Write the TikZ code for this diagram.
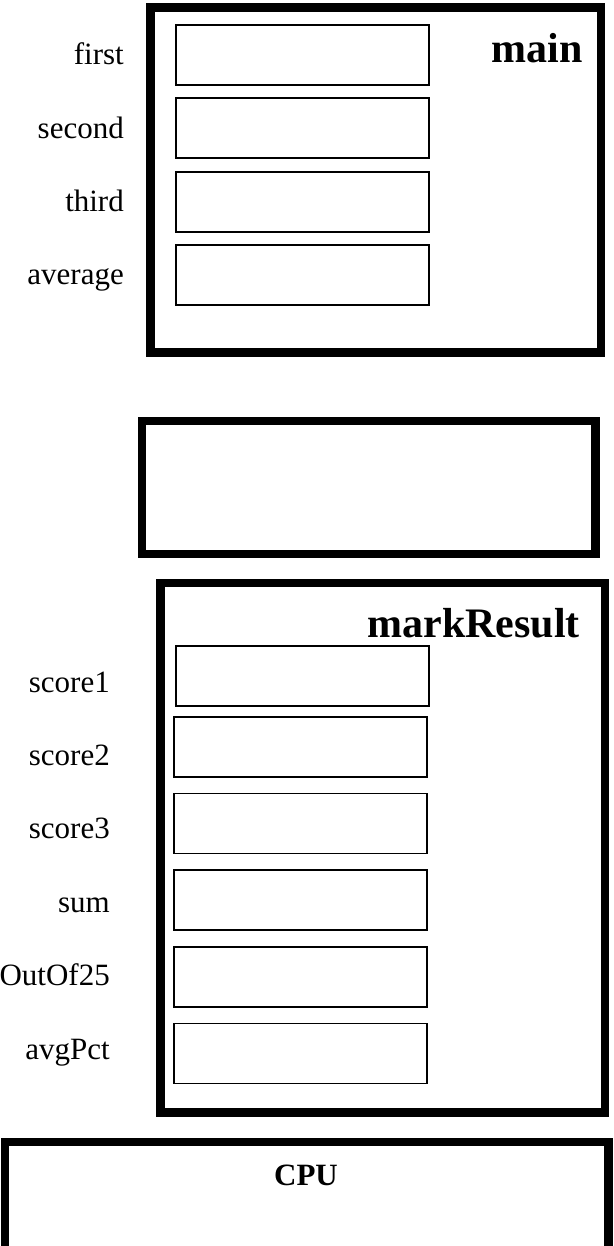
\documentclass[tikz,border=0pt]{standalone}
\usepackage{fontspec}
\setmainfont{Liberation Serif}
\usetikzlibrary{positioning}

\tikzset{
  frame/.style={draw, line width=8.4pt, inner sep=0pt},
  cell/.style={draw, line width=1.9pt, minimum width=253pt, minimum height=60pt, inner sep=0pt},
  varname/.style={font=\fontsize{31}{37}\selectfont, anchor=base east, inner sep=0pt},
  fnname/.style={font=\fontsize{42}{50}\selectfont\bfseries, anchor=base east, inner sep=0pt}
}

\begin{document}
\begin{tikzpicture}[x=1pt, y=-1pt]

\useasboundingbox (0,0) rectangle (613,1246);

% main frame
\node[frame, minimum width=450.5pt, minimum height=345pt] (mainframe) at (375.75,180) {};
\node[fnname] (maintitle) at (583,63) {main};
\foreach \name [count=\i from 0] in {first,second,third,average} {
  \node[cell] (\name) at (302.5,{55+73.3*\i}) {};
  \node[varname] (lbl-\name) at (124,{65+73.3*\i}) {\name};
}

% empty frame in between
\node[frame, minimum width=453.8pt, minimum height=133pt] (midframe) at (368.6,487.5) {};

% markResult frame
\node[frame, minimum width=444.5pt, minimum height=529.5pt] (markframe) at (382.75,847.75) {};
\node[fnname] (marktitle) at (580,637) {markResult};
\node[cell] (score1) at (302.5,676) {};
\foreach \name/\y in {score2/747,score3/823.5,sum/900,outof/977,avgpct/1053.5}
  \node[cell] (\name) at (300.8,\y) {};
\foreach \txt/\name [count=\i from 0] in {score1/score1,score2/score2,score3/score3,sum/sum,OutOf25/outof,avgPct/avgpct}
  \node[varname] (lbl-\name) at (110,{692+73.4*\i}) {\txt};

% CPU
\node[frame, minimum width=603.6pt, minimum height=112pt] (cpu) at (306.5,1197.7) {};
\node[font=\fontsize{31}{37}\selectfont\bfseries, anchor=base, inner sep=0pt] (cpulabel) at (306,1185) {CPU};

\end{tikzpicture}
\end{document}
